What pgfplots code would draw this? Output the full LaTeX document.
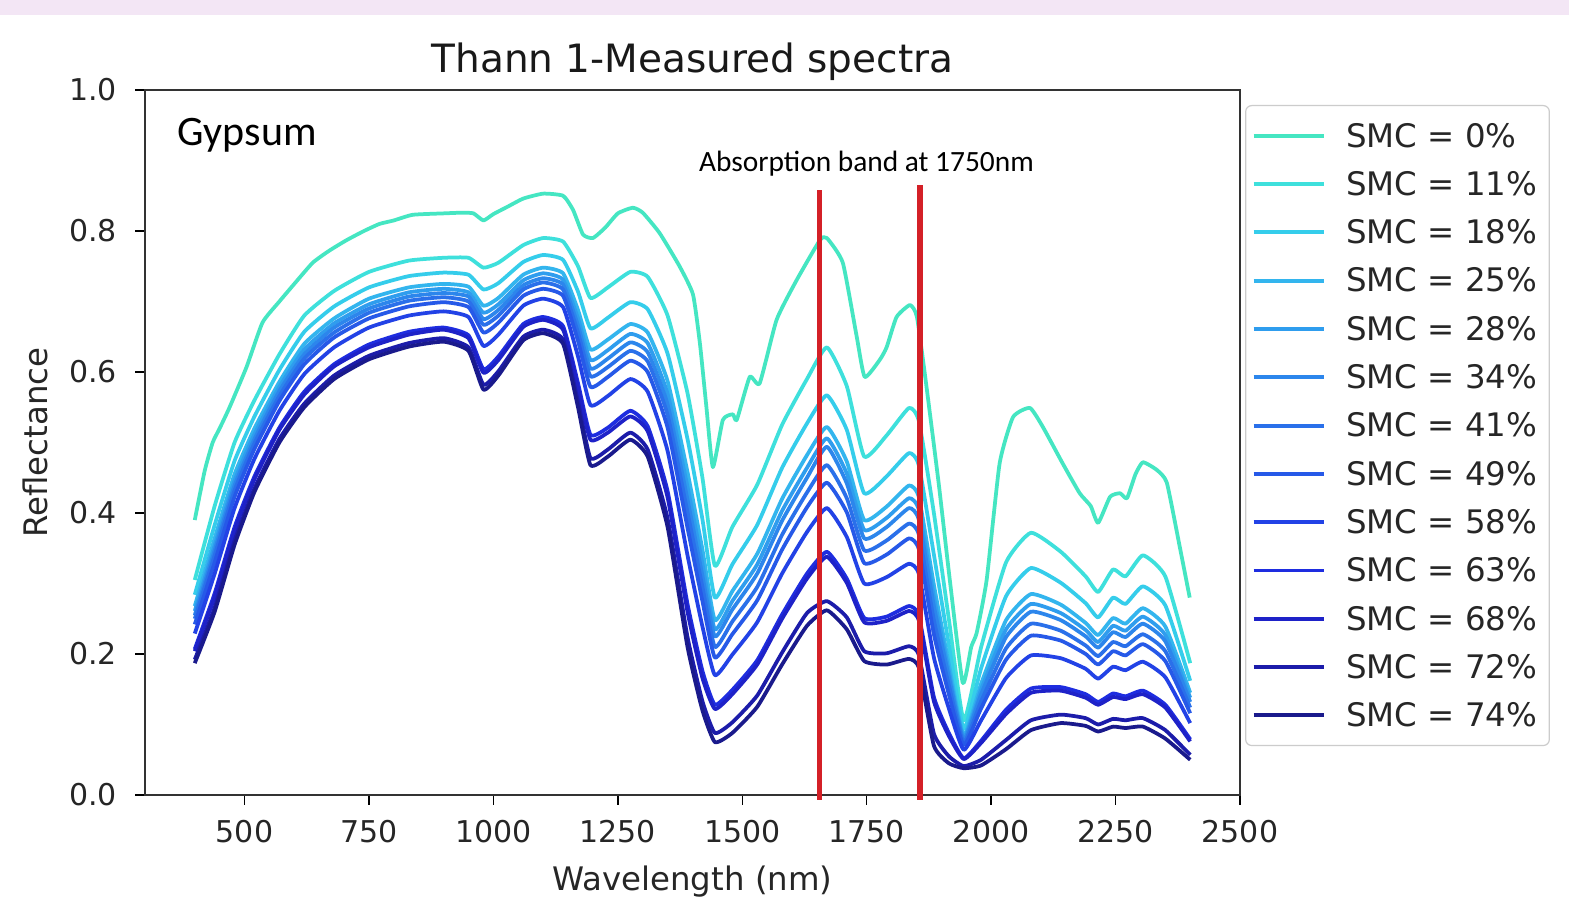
\documentclass[border=0pt]{standalone}
\usepackage{fontspec}
\setmainfont{DejaVu Sans}
\newfontfamily\calibri{Carlito}
\usepackage{pgfplots}
\pgfplotsset{compat=1.18}
\usepackage{pgfplotstable}

\definecolor{c0}{HTML}{45E6C2}
\definecolor{c11}{HTML}{3EE0DC}
\definecolor{c18}{HTML}{35CDEB}
\definecolor{c25}{HTML}{33B5EE}
\definecolor{c28}{HTML}{2F9DEE}
\definecolor{c34}{HTML}{2C86EC}
\definecolor{c41}{HTML}{2A70EA}
\definecolor{c49}{HTML}{2659E8}
\definecolor{c58}{HTML}{2242E6}
\definecolor{c63}{HTML}{1E2DE0}
\definecolor{c68}{HTML}{1E22C8}
\definecolor{c72}{HTML}{1C1CAA}
\definecolor{c74}{HTML}{1A1A8C}
\definecolor{bandred}{HTML}{D42027}
\definecolor{topstrip}{HTML}{F3E6F5}

\pgfplotstableread{
x s0
400 0.39
420 0.46
436 0.50
450 0.52
470 0.55
504 0.607
536 0.67
570 0.70
600 0.725
637 0.755
670 0.772
705 0.787
740 0.80
771 0.81
800 0.815
838 0.823
900 0.825
938 0.826
960 0.825
980 0.815
1000 0.824
1030 0.835
1060 0.846
1100 0.853
1140 0.85
1160 0.83
1180 0.795
1200 0.79
1225 0.805
1250 0.825
1280 0.833
1300 0.826
1334 0.797
1374 0.75
1401 0.71
1415 0.64
1428 0.55
1441 0.465
1461 0.532
1481 0.54
1489 0.532
1515 0.593
1535 0.584
1569 0.674
1609 0.73
1656 0.787
1670 0.79
1702 0.755
1730 0.65
1746 0.593
1776 0.617
1790 0.635
1810 0.678
1837 0.695
1851 0.678
1870 0.58
1895 0.44
1917 0.305
1943 0.159
1960 0.21
1971 0.23
1991 0.305
2017 0.47
2044 0.536
2078 0.549
2104 0.522
2144 0.47
2178 0.428
2200 0.41
2215 0.386
2239 0.423
2259 0.428
2273 0.421
2290 0.455
2305 0.472
2333 0.461
2353 0.443
2379 0.352
2399 0.28
}\zerotab

\pgfplotstableread{
x s11 s18 s25 s28 s34 s41 s49 s58 s63 s68 s72 s74
400 0.305 0.284 0.268 0.261 0.255 0.250 0.242 0.229 0.207 0.204 0.192 0.187
440 0.410 0.383 0.364 0.354 0.347 0.340 0.330 0.314 0.286 0.281 0.266 0.260
480 0.500 0.474 0.455 0.446 0.439 0.432 0.423 0.407 0.380 0.375 0.361 0.355
520 0.560 0.537 0.520 0.512 0.505 0.499 0.491 0.477 0.452 0.448 0.435 0.430
570 0.625 0.603 0.586 0.579 0.573 0.566 0.559 0.545 0.521 0.518 0.505 0.500
620 0.680 0.657 0.640 0.632 0.625 0.619 0.611 0.597 0.572 0.568 0.555 0.550
680 0.715 0.693 0.676 0.669 0.663 0.656 0.649 0.635 0.611 0.608 0.595 0.590
750 0.742 0.720 0.704 0.696 0.690 0.684 0.676 0.663 0.639 0.635 0.623 0.618
830 0.758 0.736 0.720 0.713 0.707 0.701 0.693 0.680 0.657 0.653 0.641 0.636
900 0.762 0.741 0.725 0.718 0.712 0.706 0.699 0.686 0.663 0.660 0.648 0.643
950 0.762 0.738 0.721 0.713 0.707 0.700 0.692 0.678 0.652 0.648 0.635 0.630
980 0.748 0.717 0.694 0.684 0.675 0.667 0.656 0.637 0.604 0.599 0.582 0.575
1010 0.755 0.726 0.705 0.696 0.688 0.680 0.670 0.653 0.622 0.617 0.601 0.595
1060 0.780 0.756 0.738 0.730 0.723 0.717 0.708 0.694 0.668 0.664 0.650 0.645
1100 0.790 0.766 0.748 0.740 0.733 0.727 0.718 0.704 0.678 0.674 0.660 0.655
1140 0.785 0.759 0.740 0.731 0.724 0.717 0.708 0.692 0.665 0.660 0.646 0.640
1170 0.750 0.714 0.688 0.676 0.666 0.656 0.644 0.622 0.584 0.578 0.558 0.550
1195 0.705 0.662 0.632 0.617 0.605 0.594 0.579 0.553 0.511 0.504 0.478 0.468
1230 0.720 0.677 0.646 0.631 0.619 0.607 0.593 0.566 0.521 0.514 0.490 0.480
1275 0.742 0.699 0.668 0.654 0.642 0.630 0.616 0.590 0.545 0.537 0.514 0.504
1310 0.735 0.689 0.656 0.641 0.628 0.615 0.600 0.572 0.523 0.516 0.490 0.480
1350 0.680 0.626 0.587 0.569 0.554 0.539 0.521 0.488 0.431 0.422 0.392 0.380
1390 0.570 0.505 0.458 0.437 0.419 0.401 0.379 0.340 0.271 0.260 0.224 0.210
1420 0.450 0.391 0.348 0.328 0.311 0.295 0.275 0.239 0.176 0.166 0.133 0.120
1445 0.325 0.280 0.248 0.235 0.225 0.210 0.195 0.170 0.128 0.122 0.088 0.075
1480 0.380 0.327 0.289 0.275 0.263 0.246 0.228 0.199 0.149 0.143 0.103 0.088
1530 0.440 0.383 0.342 0.327 0.314 0.295 0.276 0.245 0.191 0.185 0.141 0.125
1580 0.525 0.464 0.420 0.403 0.389 0.369 0.348 0.314 0.256 0.250 0.202 0.185
1630 0.590 0.527 0.482 0.464 0.450 0.429 0.408 0.373 0.314 0.307 0.258 0.240
1670 0.635 0.567 0.522 0.506 0.494 0.468 0.443 0.407 0.345 0.338 0.275 0.262
1710 0.580 0.518 0.473 0.456 0.442 0.421 0.401 0.366 0.307 0.301 0.252 0.235
1745 0.480 0.428 0.390 0.376 0.364 0.347 0.329 0.300 0.251 0.245 0.204 0.190
1790 0.510 0.452 0.409 0.393 0.380 0.361 0.341 0.309 0.253 0.247 0.201 0.185
1835 0.549 0.485 0.439 0.421 0.407 0.385 0.364 0.328 0.268 0.261 0.211 0.193
1855 0.530 0.467 0.422 0.404 0.390 0.369 0.348 0.313 0.254 0.247 0.198 0.180
1885 0.400 0.341 0.298 0.281 0.268 0.248 0.228 0.195 0.139 0.133 0.087 0.070
1915 0.250 0.213 0.186 0.176 0.168 0.156 0.143 0.123 0.088 0.084 0.055 0.045
1945 0.106 0.094 0.085 0.082 0.079 0.075 0.071 0.064 0.052 0.051 0.041 0.038
1980 0.210 0.180 0.158 0.150 0.143 0.133 0.123 0.106 0.077 0.074 0.050 0.042
2030 0.330 0.282 0.248 0.235 0.224 0.208 0.192 0.166 0.121 0.115 0.078 0.065
2080 0.372 0.322 0.285 0.271 0.260 0.243 0.226 0.198 0.151 0.145 0.106 0.092
2140 0.345 0.301 0.270 0.258 0.248 0.233 0.219 0.194 0.153 0.148 0.114 0.102
2190 0.310 0.272 0.244 0.234 0.225 0.212 0.200 0.179 0.143 0.138 0.109 0.098
2215 0.288 0.252 0.227 0.217 0.209 0.197 0.185 0.165 0.132 0.128 0.100 0.090
2245 0.320 0.280 0.251 0.240 0.231 0.217 0.204 0.182 0.144 0.139 0.108 0.097
2270 0.310 0.271 0.243 0.233 0.224 0.211 0.198 0.177 0.140 0.136 0.106 0.095
2305 0.340 0.296 0.265 0.253 0.243 0.228 0.214 0.189 0.148 0.143 0.109 0.097
2350 0.310 0.269 0.239 0.227 0.218 0.204 0.190 0.167 0.128 0.124 0.092 0.080
2400 0.187 0.162 0.145 0.138 0.132 0.124 0.116 0.102 0.079 0.076 0.057 0.050
}\bundle

\begin{document}
\begin{tikzpicture}
\fill[white] (0,0) rectangle (523pt,303pt);
\fill[topstrip] (0,298pt) rectangle (523pt,303pt);
\begin{axis}[
  at={(48.33pt,38pt)}, anchor=south west,
  scale only axis, width=365pt, height=235pt,
  xmin=300, xmax=2500, ymin=0, ymax=1,
  xtick={500,750,1000,1250,1500,1750,2000,2250,2500},
  ytick={0,0.2,0.4,0.6,0.8,1.0},
  /pgf/number format/assume math mode=true,
  yticklabel style={/pgf/number format/fixed, /pgf/number format/fixed zerofill, /pgf/number format/precision=1, xshift=-2.5pt},
  xticklabel style={/pgf/number format/1000 sep={}, yshift=-1.5pt},
  tick label style={font=\fontsize{10}{12}\selectfont, color=black!85},
  tick align=outside, major tick length=3.3pt,
  tick style={black, line width=0.5pt},
  xtick pos=bottom, ytick pos=left,
  axis line style={black!80, line width=0.7pt},
  clip=false,
  title={Thann 1-Measured spectra},
  every axis title/.style={at={(axis description cs:0.5,1)}, anchor=base, yshift=5.7pt, font=\fontsize{13}{15}\selectfont, color=black!90},
  xlabel={Wavelength (nm)},
  ylabel={Reflectance},
  every axis x label/.style={at={(axis description cs:0.5,0)}, anchor=base, yshift=-31.7pt, font=\fontsize{10.8}{13}\selectfont, color=black!85},
  every axis y label/.style={at={(axis description cs:-0.1005,0.5)}, rotate=90, anchor=center, font=\fontsize{10.8}{13}\selectfont, color=black!85},
  legend cell align=left,
  legend style={at={(axis description cs:1,1)}, anchor=north west, xshift=1.7pt, yshift=-5pt,
    draw=black!20, rounded corners=2pt, fill=white, font=\fontsize{10.8}{13}\selectfont,
    text=black!85, row sep=0pt, inner xsep=2pt, inner ysep=2pt,
    nodes={text height=8.2pt, text depth=0.7pt, inner ysep=3.6pt}},
  legend image code/.code={\draw[#1, line width=1.3pt] (0pt,0pt) -- (23.3pt,0pt); \path (28.3pt,0pt);},
  every axis plot/.append style={line width=1.25pt, line join=round, smooth, tension=0.3},
]
\addplot[c0] table[x=x, y=s0] {\zerotab};
\addlegendentry{SMC = 0\%}
\addplot[c11] table[x=x, y=s11] {\bundle};
\addlegendentry{SMC = 11\%}
\addplot[c18] table[x=x, y=s18] {\bundle};
\addlegendentry{SMC = 18\%}
\addplot[c25] table[x=x, y=s25] {\bundle};
\addlegendentry{SMC = 25\%}
\addplot[c28] table[x=x, y=s28] {\bundle};
\addlegendentry{SMC = 28\%}
\addplot[c34] table[x=x, y=s34] {\bundle};
\addlegendentry{SMC = 34\%}
\addplot[c41] table[x=x, y=s41] {\bundle};
\addlegendentry{SMC = 41\%}
\addplot[c49] table[x=x, y=s49] {\bundle};
\addlegendentry{SMC = 49\%}
\addplot[c58] table[x=x, y=s58] {\bundle};
\addlegendentry{SMC = 58\%}
\addplot[c63] table[x=x, y=s63] {\bundle};
\addlegendentry{SMC = 63\%}
\addplot[c68] table[x=x, y=s68] {\bundle};
\addlegendentry{SMC = 68\%}
\addplot[c72] table[x=x, y=s72] {\bundle};
\addlegendentry{SMC = 72\%}
\addplot[c74] table[x=x, y=s74] {\bundle};
\addlegendentry{SMC = 74\%}
\addplot[bandred, line width=1.7pt, sharp plot, forget plot] coordinates {(1656,0.858) (1656,-0.007)};
\addplot[bandred, line width=1.7pt, sharp plot, forget plot] coordinates {(1857,0.865) (1857,-0.007)};
\node[anchor=base west, font=\calibri\fontsize{14}{16}\selectfont, inner sep=0pt] at (axis cs:365,0.9206) {Gypsum};
\node[anchor=base west, font=\calibri\fontsize{9.8}{12}\selectfont, inner sep=0pt] at (axis cs:1412,0.885) {Absorption band at 1750nm};
\end{axis}
\pgfresetboundingbox
\path[use as bounding box] (0,0) rectangle (523pt,303pt);
\end{tikzpicture}
\end{document}
